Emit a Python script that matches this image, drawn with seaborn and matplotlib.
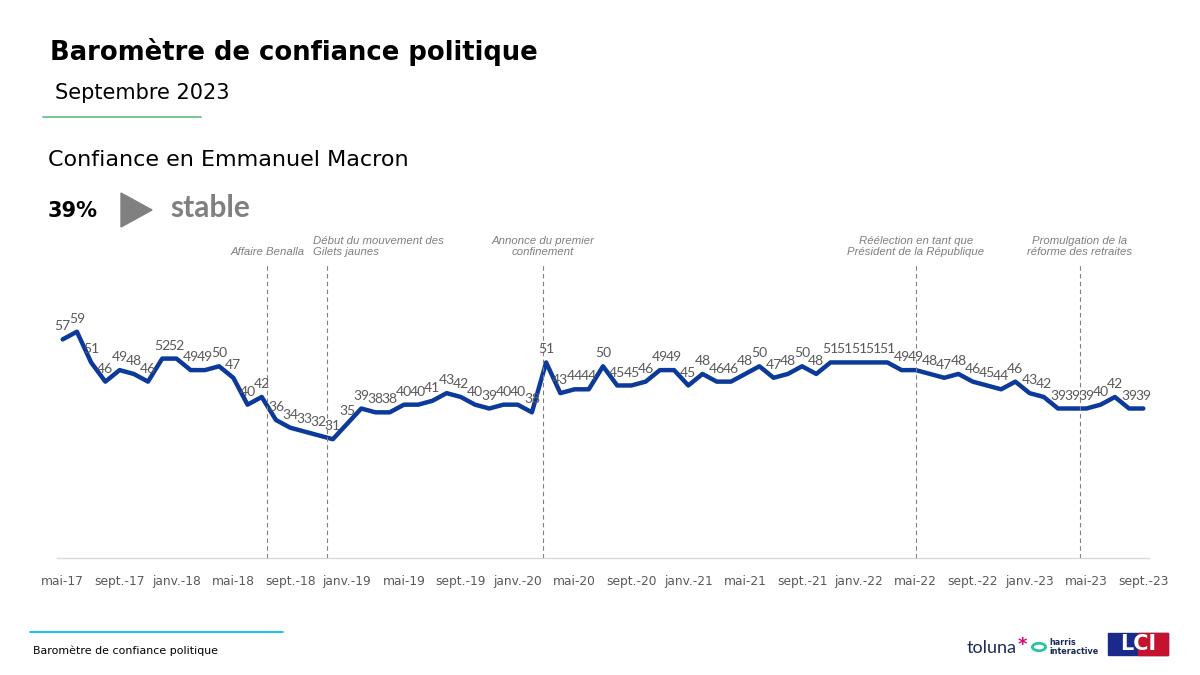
import pandas as pd
import seaborn as sns
import matplotlib.pyplot as plt
from matplotlib.patches import Polygon, Rectangle, Circle
from matplotlib.lines import Line2D

# données : confiance mensuelle, mai 2017 -> septembre 2023
confiance = [57, 59, 51, 46, 49, 48, 46, 52, 52, 49, 49, 50, 47, 40, 42, 36,
             34, 33, 32, 31, 35, 39, 38, 38, 40, 40, 41, 43, 42, 40, 39, 40,
             40, 38, 51, 43, 44, 44, 50, 45, 45, 46, 49, 49, 45, 48, 46, 46,
             48, 50, 47, 48, 50, 48, 51, 51, 51, 51, 51, 49, 49, 48, 47, 48,
             46, 45, 44, 46, 43, 42, 39, 39, 39, 40, 42, 39, 39]
tick_labels = ["mai-17", "sept.-17", "janv.-18", "mai-18", "sept.-18", "janv.-19",
               "mai-19", "sept.-19", "janv.-20", "mai-20", "sept.-20", "janv.-21",
               "mai-21", "sept.-21", "janv.-22", "mai-22", "sept.-22", "janv.-23",
               "mai-23", "sept.-23"]
event_labels = ["Affaire Benalla", "Début du mouvement des\nGilets jaunes",
                "Annonce du premier\nconfinement",
                "Réélection en tant que\nPrésident de la République",
                "Promulgation de la\nréforme des retraites"]
event_months = [14.4, 18.6, 33.75, 60.0, 71.55]  # position en mois depuis mai-17
event_align = ["center", "left", "center", "center", "center"]

df = pd.DataFrame({"mois": range(len(confiance)), "confiance": confiance})

sns.set_style("white")
plt.rcParams['font.family'] = ['DejaVu Sans']

BLUE = "#0b3a9a"
GREY = "#595959"

fig = plt.figure(figsize=(12, 6.75), dpi=100)
ax = fig.add_axes([0.0475, 0.173, 0.91, 0.455])

sns.lineplot(data=df, x="mois", y="confiance", color=BLUE, linewidth=3.2,
             ax=ax, solid_joinstyle="round", solid_capstyle="round")

for i, v in enumerate(confiance):
    ax.annotate(str(v), (i, v), xytext=(0, 5), textcoords="offset points",
                ha="center", va="bottom", fontsize=10, color=GREY,
                family=["Lato", "DejaVu Sans"])

for xm, lab, al in zip(event_months, event_labels, event_align):
    ax.plot([xm, xm], [0, 77], ls=(0, (4, 3)), color="#808080", lw=0.8)
    tx = xm - 1.0 if al == "left" else xm
    ax.text(tx, 78.5, lab, ha=al, va="bottom", fontsize=8.2, style="italic",
            color="#7f7f7f", family=["Liberation Sans"], linespacing=1.15)

ax.set_xlim(-0.4, len(confiance) - 0.6)
ax.set_ylim(0, 80)
ax.set_xticks(range(0, len(confiance), 4))
ax.set_xticklabels(tick_labels, fontsize=8.8, color=GREY)
ax.set_yticks([])
ax.set_xlabel("")
ax.set_ylabel("")
ax.tick_params(axis="x", length=0, pad=12)
for s in ["top", "left", "right"]:
    ax.spines[s].set_visible(False)
ax.spines["bottom"].set_color("#d9d9d9")
ax.spines["bottom"].set_linewidth(1)

# en-tête
fig.text(50 / 1200, 1 - 52 / 675, "Baromètre de confiance politique", fontsize=18.6,
         fontweight="bold", color="black", va="center", ha="left")
fig.text(55 / 1200, 1 - 93 / 675, "Septembre 2023", fontsize=15, color="black",
         va="center", ha="left")
fig.add_artist(Line2D([43 / 1200, 201 / 1200], [1 - 117 / 675] * 2, color="#6cc08b", lw=1.3))
fig.text(48 / 1200, 1 - 160 / 675, "Confiance en Emmanuel Macron", fontsize=16,
         color="black", va="center", ha="left")
fig.text(48 / 1200, 1 - 211 / 675, "39%", fontsize=15, fontweight="bold",
         color="black", va="center", ha="left")
fig.add_artist(Polygon([[121 / 1200, 1 - 193 / 675], [121 / 1200, 1 - 227 / 675],
                        [152 / 1200, 1 - 210 / 675]], closed=True, color="#808080",
                       transform=fig.transFigure))
fig.text(170 / 1200, 1 - 208 / 675, "stable", fontsize=21.5, fontweight="bold",
         color="#808080", va="center", ha="left", family=["Lato", "DejaVu Sans"])

# pied de page
fig.add_artist(Line2D([30 / 1200, 283 / 1200], [1 - 632 / 675] * 2, color="#00c0f0", lw=1.3))
fig.text(33 / 1200, 1 - 651 / 675, "Baromètre de confiance politique", fontsize=7.9,
         color="black", va="center", ha="left")
fig.text(967 / 1200, 1 - 648 / 675, "toluna", fontsize=13, color="#1b2b5b",
         va="center", ha="left", family=["Lato", "DejaVu Sans"])
fig.text(1018 / 1200, 1 - 645 / 675, "*", fontsize=13, color="#e4007c",
         va="center", ha="left", fontweight="bold")
fig.add_artist(Circle((1039 / 1200, 1 - 647 / 675), 0.0055, fill=False, lw=2,
                      ec="#2cc5a0", transform=fig.transFigure))
fig.text(1049 / 1200, 1 - 647 / 675, "harris\ninteractive", fontsize=5.8, color="#1b2b5b",
         va="center", ha="left", fontweight="bold", linespacing=0.9)
fig.add_artist(Rectangle((1108 / 1200, 1 - 655 / 675), 60 / 1200, 22 / 675,
                         color="#1a2a8c", transform=fig.transFigure))
fig.add_artist(Rectangle((1138 / 1200, 1 - 655 / 675), 30 / 1200, 22 / 675,
                         color="#c4122f", transform=fig.transFigure))
fig.text(1138 / 1200, 1 - 644 / 675, "LCI", fontsize=15, color="white",
         va="center", ha="center", fontweight="bold")

fig.savefig("out.png", dpi=100)
